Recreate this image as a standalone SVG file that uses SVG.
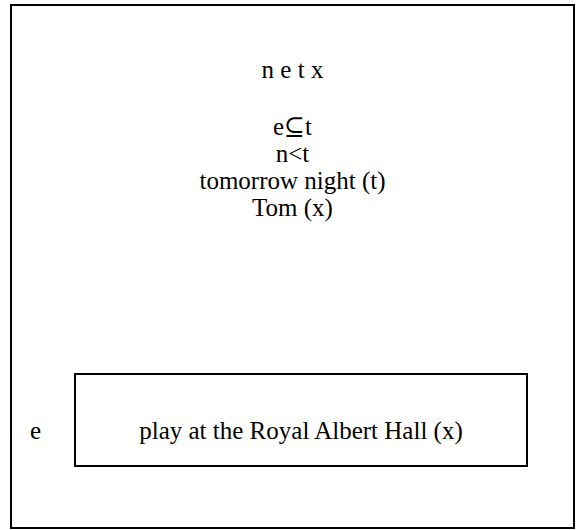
<svg xmlns="http://www.w3.org/2000/svg" width="576" height="530" viewBox="0 0 576 530">
<style>
  .box { fill: none; stroke: #000; stroke-width: 2; }
  .t { font-family: "Liberation Serif", "Times New Roman", "DejaVu Serif", serif; font-size: 25px; fill: #000; }
  .c { text-anchor: middle; }
</style>
<rect x="0" y="0" width="576" height="530" fill="#fff"/>
<g id="outer">
  <rect class="box" x="11" y="5" width="563" height="523"/>
  <text class="t c" x="292.5" y="78">n e t x</text>
  <text class="t c" x="292.5" y="135">e⊆t</text>
  <text class="t c" x="292.5" y="162">n&lt;t</text>
  <text class="t c" x="292.5" y="189">tomorrow night (t)</text>
  <text class="t c" x="292.5" y="216">Tom (x)</text>
  <text class="t" x="30" y="439">e</text>
</g>
<g id="inner">
  <rect class="box" x="75" y="374" width="452" height="92"/>
  <text class="t c" x="301" y="439">play at the Royal Albert Hall (x)</text>
</g>
<g id="connectors"/>
</svg>
